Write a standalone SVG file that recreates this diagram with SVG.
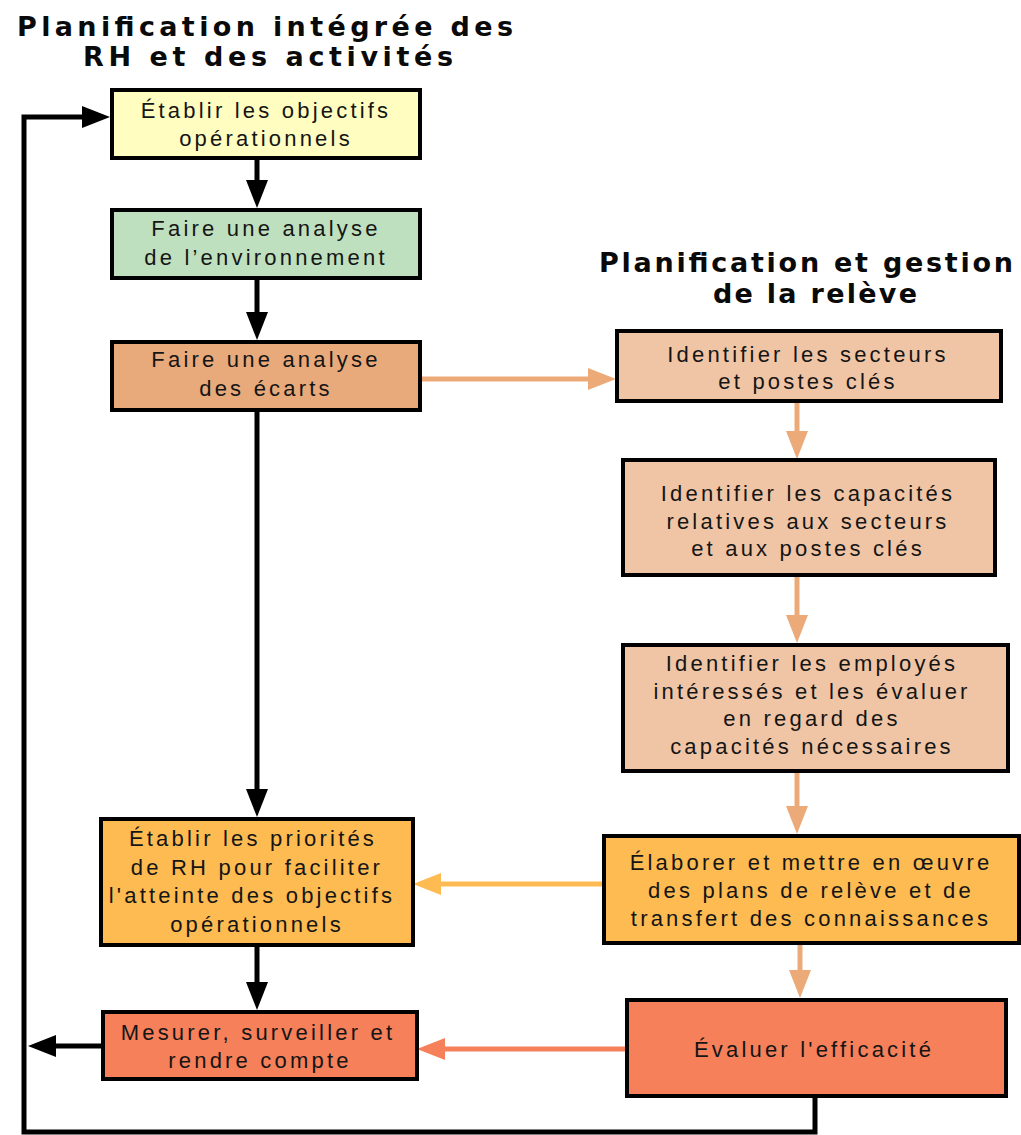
<svg xmlns="http://www.w3.org/2000/svg" width="1021" height="1135" viewBox="0 0 1021 1135">
<defs>
<style>
.box{stroke:#000;stroke-width:4}
.t{font-family:"Liberation Sans",Arial,sans-serif;font-size:22px;letter-spacing:3.2px;fill:#151515;text-anchor:middle}
.h{font-family:"DejaVu Sans","Liberation Sans",Arial,sans-serif;font-size:27px;font-weight:bold;fill:#0a0a0a;text-anchor:middle}
.k{fill:none;stroke:#000;stroke-width:5}
.o{fill:none;stroke:#EBAA78;stroke-width:5}
.y{fill:none;stroke:#FDBB52;stroke-width:5}
.s{fill:none;stroke:#F5805A;stroke-width:5}
</style>
<marker id="ak" markerUnits="userSpaceOnUse" markerWidth="28" markerHeight="22" refX="16" refY="11" orient="auto"><path d="M0,0 L28,11 L0,22 Z" fill="#000"/></marker>
<marker id="ao" markerUnits="userSpaceOnUse" markerWidth="28" markerHeight="22" refX="16" refY="11" orient="auto"><path d="M0,0 L28,11 L0,22 Z" fill="#EBAA78"/></marker>
<marker id="ay" markerUnits="userSpaceOnUse" markerWidth="28" markerHeight="22" refX="16" refY="11" orient="auto"><path d="M0,0 L28,11 L0,22 Z" fill="#FDBB52"/></marker>
<marker id="as" markerUnits="userSpaceOnUse" markerWidth="28" markerHeight="22" refX="16" refY="11" orient="auto"><path d="M0,0 L28,11 L0,22 Z" fill="#F5805A"/></marker>
</defs>
<rect width="1021" height="1135" fill="#fff"/>
<g id="titles">
<text class="h" x="265" y="36" textLength="496" lengthAdjust="spacing">Planification intégrée des</text>
<text class="h" x="268" y="66" textLength="370" lengthAdjust="spacing">RH et des activités</text>
<text class="h" x="806" y="272" textLength="414" lengthAdjust="spacing">Planification et gestion</text>
<text class="h" x="815" y="303" textLength="204" lengthAdjust="spacing">de la relève</text>
</g>
<g id="connectors">
<path class="k" d="M257,158 V196" marker-end="url(#ak)"/>
<path class="k" d="M257,278 V328" marker-end="url(#ak)"/>
<path class="k" d="M257,410 V805" marker-end="url(#ak)"/>
<path class="k" d="M257,945 V998" marker-end="url(#ak)"/>
<path class="k" d="M101,1046 H40" marker-end="url(#ak)"/>
<path class="k" d="M815,1096 V1132 H24 V117 H98" marker-end="url(#ak)"/>
<path class="o" d="M420,379 H604" marker-end="url(#ao)"/>
<path class="o" d="M797,401 V447" marker-end="url(#ao)"/>
<path class="o" d="M797,575 V631" marker-end="url(#ao)"/>
<path class="o" d="M797,771 V822" marker-end="url(#ao)"/>
<path class="o" d="M800,943 V986" marker-end="url(#ao)"/>
<path class="y" d="M603,884 H425" marker-end="url(#ay)"/>
<path class="s" d="M626,1049 H429" marker-end="url(#as)"/>
</g>
<g id="n1">
<rect class="box" x="112" y="90" width="308" height="68" fill="#FFFEC0"/>
<text class="t" x="266" y="118">Établir les objectifs</text>
<text class="t" x="266" y="146">opérationnels</text>
</g>
<g id="n2">
<rect class="box" x="112" y="210" width="308" height="68" fill="#BFE0BE"/>
<text class="t" x="266" y="236">Faire une analyse</text>
<text class="t" x="266" y="265">de l’environnement</text>
</g>
<g id="n3">
<rect class="box" x="112" y="342" width="308" height="68" fill="#E8A97B"/>
<text class="t" x="266" y="367">Faire une analyse</text>
<text class="t" x="266" y="396">des écarts</text>
</g>
<g id="n4">
<rect class="box" x="101" y="819" width="312" height="126" fill="#FDBB52"/>
<text class="t" x="253" y="846">Établir les priorités</text>
<text class="t" x="257" y="875">de RH pour faciliter</text>
<text class="t" x="252" y="903">l'atteinte des objectifs</text>
<text class="t" x="257" y="932">opérationnels</text>
</g>
<g id="n5">
<rect class="box" x="103" y="1012" width="314" height="67" fill="#F5805A"/>
<text class="t" x="258" y="1040">Mesurer, surveiller et</text>
<text class="t" x="260" y="1068">rendre compte</text>
</g>
<g id="r1">
<rect class="box" x="617" y="331" width="384" height="70" fill="#F0C5A5"/>
<text class="t" x="808" y="362">Identifier les secteurs</text>
<text class="t" x="808" y="389">et postes clés</text>
</g>
<g id="r2">
<rect class="box" x="623" y="460" width="372" height="115" fill="#F0C5A5"/>
<text class="t" x="808" y="501">Identifier les capacités</text>
<text class="t" x="808" y="529">relatives aux secteurs</text>
<text class="t" x="808" y="556">et aux postes clés</text>
</g>
<g id="r3">
<rect class="box" x="623" y="645" width="385" height="126" fill="#F0C5A5"/>
<text class="t" x="812" y="671">Identifier les employés</text>
<text class="t" x="812" y="699">intéressés et les évaluer</text>
<text class="t" x="812" y="726">en regard des</text>
<text class="t" x="812" y="754">capacités nécessaires</text>
</g>
<g id="r4">
<rect class="box" x="604" y="836" width="415" height="107" fill="#FDBB52"/>
<text class="t" x="811" y="870">Élaborer et mettre en œuvre</text>
<text class="t" x="811" y="898">des plans de relève et de</text>
<text class="t" x="811" y="926">transfert des connaissances</text>
</g>
<g id="r5">
<rect class="box" x="627" y="1000" width="379" height="96" fill="#F5805A"/>
<text class="t" x="814" y="1057">Évaluer l'efficacité</text>
</g>
</svg>
